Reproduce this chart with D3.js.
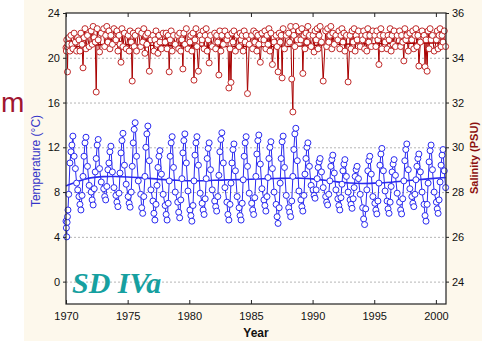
<!DOCTYPE html>
<html>
<head>
<meta charset="utf-8">
<script src="https://cdn.jsdelivr.net/npm/d3@7"></script>
<style>
body { margin: 0; background: #ffffff; }
</style>
</head>
<body>
<div id="chart"></div>
<script>
// sampling dates (decimal year), shared by both series
var sampleDate = [
  1970.00, 1970.03, 1970.06, 1970.09, 1970.12, 1970.16, 1970.22, 1970.32, 1970.40, 1970.48, 1970.56, 1970.66, 1970.76, 1970.86, 1970.95,
  1971.05, 1971.13, 1971.21, 1971.30, 1971.38, 1971.46, 1971.54, 1971.62, 1971.74, 1971.88,
  1972.04, 1972.12, 1972.20, 1972.29, 1972.37, 1972.45, 1972.53, 1972.61, 1972.72, 1972.86,
  1973.06, 1973.14, 1973.22, 1973.31, 1973.40, 1973.48, 1973.56, 1973.64, 1973.76, 1973.89,
  1974.05, 1974.13, 1974.21, 1974.30, 1974.38, 1974.46, 1974.54, 1974.62, 1974.74, 1974.88,
  1975.04, 1975.12, 1975.20, 1975.29, 1975.37, 1975.45, 1975.53, 1975.61, 1975.72, 1975.86,
  1976.06, 1976.14, 1976.22, 1976.31, 1976.40, 1976.48, 1976.56, 1976.64, 1976.76, 1976.89,
  1977.05, 1977.13, 1977.21, 1977.30, 1977.38, 1977.46, 1977.54, 1977.62, 1977.74, 1977.88,
  1978.04, 1978.12, 1978.20, 1978.29, 1978.37, 1978.45, 1978.53, 1978.61, 1978.72, 1978.86,
  1979.06, 1979.14, 1979.22, 1979.31, 1979.40, 1979.48, 1979.56, 1979.64, 1979.76, 1979.89,
  1980.05, 1980.13, 1980.21, 1980.30, 1980.38, 1980.46, 1980.54, 1980.62, 1980.74, 1980.88,
  1981.04, 1981.12, 1981.20, 1981.29, 1981.37, 1981.45, 1981.53, 1981.61, 1981.72, 1981.86,
  1982.06, 1982.14, 1982.22, 1982.31, 1982.40, 1982.48, 1982.56, 1982.64, 1982.76, 1982.89,
  1983.05, 1983.13, 1983.21, 1983.30, 1983.38, 1983.46, 1983.54, 1983.62, 1983.74, 1983.88,
  1984.04, 1984.12, 1984.20, 1984.29, 1984.37, 1984.45, 1984.53, 1984.61, 1984.72, 1984.86,
  1985.06, 1985.14, 1985.22, 1985.31, 1985.40, 1985.48, 1985.56, 1985.64, 1985.76, 1985.89,
  1986.05, 1986.13, 1986.21, 1986.30, 1986.38, 1986.46, 1986.54, 1986.62, 1986.74, 1986.88,
  1987.04, 1987.12, 1987.20, 1987.29, 1987.37, 1987.45, 1987.53, 1987.61, 1987.72, 1987.86,
  1988.06, 1988.14, 1988.22, 1988.31, 1988.40, 1988.48, 1988.56, 1988.64, 1988.76, 1988.89,
  1989.05, 1989.13, 1989.21, 1989.30, 1989.38, 1989.46, 1989.54, 1989.62, 1989.74, 1989.88,
  1990.04, 1990.12, 1990.20, 1990.29, 1990.37, 1990.45, 1990.53, 1990.61, 1990.72, 1990.86,
  1991.06, 1991.14, 1991.22, 1991.31, 1991.40, 1991.48, 1991.56, 1991.64, 1991.76, 1991.89,
  1992.05, 1992.13, 1992.21, 1992.30, 1992.38, 1992.46, 1992.54, 1992.62, 1992.74, 1992.88,
  1993.04, 1993.12, 1993.20, 1993.29, 1993.37, 1993.45, 1993.53, 1993.61, 1993.72, 1993.86,
  1994.06, 1994.14, 1994.22, 1994.31, 1994.40, 1994.48, 1994.56, 1994.64, 1994.76, 1994.89,
  1995.05, 1995.13, 1995.21, 1995.30, 1995.38, 1995.46, 1995.54, 1995.62, 1995.74, 1995.88,
  1996.04, 1996.12, 1996.20, 1996.29, 1996.37, 1996.45, 1996.53, 1996.61, 1996.72, 1996.86,
  1997.06, 1997.14, 1997.22, 1997.31, 1997.40, 1997.48, 1997.56, 1997.64, 1997.76, 1997.89,
  1998.05, 1998.13, 1998.21, 1998.30, 1998.38, 1998.46, 1998.54, 1998.62, 1998.74, 1998.88,
  1999.04, 1999.12, 1999.20, 1999.29, 1999.37, 1999.45, 1999.53, 1999.61, 1999.72, 1999.86,
  2000.04, 2000.11, 2000.18, 2000.26, 2000.34, 2000.42, 2000.50, 2000.58, 2000.68, 2000.79
];

// temperature (°C)
var tempValue = [
  5.4, 4.8, 4.0, 5.3, 5.8, 6.4, 7.8, 10.6, 11.6, 12.2, 13.0, 11.2, 10.1, 8.8, 8.2,
  7.6, 6.9, 6.4, 7.7, 9.4, 11.2, 12.4, 12.9, 10.3, 8.6,
  8.0, 7.3, 6.85, 8.3, 9.8, 11.0, 12.2, 12.7, 10.1, 8.9,
  8.3, 7.6, 7.3, 8.5, 10.0, 10.6, 11.6, 12.1, 9.8, 8.4,
  7.7, 7.1, 6.7, 7.9, 9.7, 11.5, 12.6, 13.25, 10.4, 8.7,
  7.6, 7.0, 6.65, 8.0, 10.3, 12.4, 13.6, 14.2, 11.2, 9.0,
  7.8, 6.6, 6.1, 7.6, 9.4, 12.0, 13.2, 13.9, 10.8, 8.2,
  7.2, 6.1, 5.5, 6.9, 8.6, 10.2, 11.2, 11.7, 9.6, 7.8,
  6.8, 6.0, 5.5, 7.0, 9.0, 11.2, 12.4, 12.95, 10.2, 8.0,
  7.1, 6.2, 5.7, 7.3, 9.2, 11.5, 12.6, 13.2, 10.6, 8.1,
  6.4, 5.9, 5.4, 6.8, 9.0, 11.3, 12.4, 12.95, 10.4, 7.9,
  7.0, 6.4, 6.0, 7.4, 9.2, 11.0, 11.9, 12.4, 10.0, 8.2,
  7.2, 6.7, 6.3, 7.6, 9.5, 11.6, 12.7, 13.3, 10.6, 8.4,
  7.1, 6.0, 5.5, 6.9, 8.8, 10.6, 11.8, 12.3, 9.9, 7.6,
  6.6, 5.9, 5.5, 7.0, 9.1, 11.2, 12.4, 12.95, 10.3, 7.9,
  7.0, 6.4, 6.0, 7.5, 9.4, 11.4, 12.6, 13.1, 10.5, 8.3,
  7.3, 6.8, 6.3, 7.6, 9.3, 11.0, 12.0, 12.5, 10.1, 8.0,
  6.9, 5.8, 5.2, 6.6, 8.8, 11.0, 12.5, 13.0, 10.2, 7.7,
  6.6, 6.2, 5.8, 7.2, 9.4, 11.8, 13.2, 13.7, 10.8, 8.1,
  7.3, 6.7, 6.3, 7.7, 9.6, 11.0, 12.0, 12.4, 10.3, 8.6,
  8.2, 7.7, 7.45, 8.2, 9.2, 10.2, 10.7, 11.0, 9.8, 8.4,
  7.6, 7.1, 6.85, 7.8, 9.0, 10.3, 10.9, 11.3, 9.7, 8.2,
  7.4, 6.8, 6.4, 7.5, 8.7, 9.9, 10.5, 10.9, 9.4, 8.0,
  7.3, 6.9, 6.55, 7.4, 8.4, 9.4, 10.0, 10.3, 9.2, 7.8,
  6.6, 5.6, 5.1, 6.5, 8.2, 9.9, 10.8, 11.2, 9.6, 7.6,
  7.0, 6.4, 6.05, 7.2, 8.8, 10.4, 11.4, 11.9, 9.9, 8.1,
  7.2, 6.5, 6.1, 7.1, 8.5, 9.8, 10.5, 10.9, 9.5, 7.9,
  7.1, 6.4, 6.05, 7.4, 9.0, 10.8, 11.8, 12.3, 10.0, 8.3,
  7.6, 7.0, 6.7, 7.8, 9.1, 10.3, 11.0, 11.4, 9.8, 8.0,
  6.9, 5.9, 5.4, 6.9, 8.8, 10.7, 11.7, 12.2, 10.0, 8.0,
  7.1, 6.5, 6.1, 7.3, 8.9, 10.4, 11.3, 11.8, 9.9, 8.4
];

// salinity (PSU)
var salValue = [
  34.45, 34.3, 34.8, 34.5, 33.37, 34.6, 34.9, 34.3, 35.0, 34.6, 34.4, 35.1, 34.7, 34.3, 34.9,
  34.8, 34.3, 35.1, 34.6, 33.55, 34.9, 35.3, 34.4, 35.0, 34.5,
  35.2, 34.6, 35.4, 34.9, 34.7, 32.47, 35.3, 34.8, 34.26, 35.1,
  35.3, 34.5, 35.0, 35.4, 34.7, 35.2, 34.4, 35.0, 34.6, 35.3,
  34.8, 35.2, 34.3, 35.0, 34.6, 33.8, 35.3, 34.5, 35.1, 34.4,
  35.0, 34.3, 35.2, 34.7, 32.96, 35.1, 34.5, 35.0, 34.3, 35.2,
  34.5, 35.1, 34.7, 35.3, 34.2, 35.0, 34.6, 35.1, 33.4, 34.8,
  35.0, 34.3, 34.8, 35.2, 34.6, 34.2, 35.0, 34.7, 34.4, 35.1,
  34.7, 35.1, 34.4, 35.0, 33.37, 34.8, 35.2, 34.3, 35.0, 34.6,
  35.0, 34.4, 35.1, 34.3, 34.8, 33.5, 35.1, 34.6, 35.3, 34.4,
  34.7, 35.0, 34.3, 35.1, 33.0, 34.8, 35.3, 34.5, 33.4, 35.0,
  34.8, 35.2, 34.4, 35.0, 35.3, 34.3, 34.8, 33.77, 35.0, 34.5,
  35.1, 34.4, 35.0, 34.7, 33.23, 35.2, 34.3, 35.0, 34.6, 35.2,
  34.8, 35.0, 32.65, 34.4, 32.9, 35.1, 34.7, 35.2, 34.3, 35.0,
  34.5, 35.1, 34.8, 35.0, 34.3, 35.2, 34.7, 35.0, 32.4, 34.6,
  35.0, 34.4, 35.2, 34.7, 35.1, 34.3, 35.0, 34.6, 33.8, 35.1,
  34.8, 35.2, 34.4, 35.0, 34.6, 35.3, 34.3, 35.1, 33.7, 34.7,
  35.0, 34.5, 33.37, 35.1, 34.7, 35.0, 33.1, 35.3, 34.4, 35.0,
  35.1, 34.7, 35.4, 33.05, 31.58, 35.0, 34.5, 35.4, 34.8, 35.2,
  34.8, 35.3, 33.3, 35.0, 34.4, 35.1, 34.7, 35.4, 35.0, 34.5,
  35.0, 34.26, 35.2, 34.8, 35.3, 34.4, 35.0, 35.4, 34.7, 32.96,
  35.2, 34.5, 35.3, 34.7, 35.0, 35.4, 34.4, 35.1, 34.6, 35.0,
  34.8, 35.2, 34.4, 35.0, 35.3, 34.7, 35.1, 34.3, 35.0, 32.92,
  35.0, 34.4, 35.2, 34.7, 35.3, 34.3, 35.0, 34.8, 35.2, 34.5,
  34.8, 35.2, 34.4, 35.0, 34.3, 35.3, 34.7, 35.0, 34.5, 35.2,
  35.0, 34.5, 35.2, 34.8, 33.7, 35.0, 35.3, 34.4, 35.0, 34.7,
  34.4, 35.0, 34.8, 35.3, 34.3, 35.0, 34.6, 35.2, 34.5, 35.0,
  35.2, 34.5, 35.0, 34.7, 33.86, 35.3, 34.8, 35.0, 34.3, 35.1,
  34.8, 35.2, 34.4, 35.0, 35.3, 34.5, 35.0, 33.63, 34.7, 35.2,
  35.0, 33.6, 34.8, 33.4, 35.2, 34.4, 35.3, 34.8, 35.0, 34.3,
  34.8, 35.2, 34.4, 35.0, 35.3, 34.5, 35.0, 34.7, 35.2, 34.5
];

// smoothed trends, one value per year
var trendYear = [1970, 1971, 1972, 1973, 1974, 1975, 1976, 1977, 1978, 1979, 1980, 1981, 1982, 1983, 1984, 1985,
  1986, 1987, 1988, 1989, 1990, 1991, 1992, 1993, 1994, 1995, 1996, 1997, 1998, 1999, 2000.8];
var tempTrend = [8.55, 9.0, 9.3, 9.4, 9.4, 9.35, 9.3, 9.2, 9.1, 9.05, 9.0, 9.0, 9.05, 9.1, 9.1, 9.15,
  9.2, 9.2, 9.25, 9.25, 9.2, 9.05, 8.9, 8.8, 8.75, 8.8, 8.85, 8.95, 9.05, 9.15, 9.3];
var salTrend = [34.45, 34.5, 34.55, 34.6, 34.6, 34.58, 34.56, 34.55, 34.55, 34.54, 34.52, 34.52, 34.5, 34.5, 34.5, 34.5,
  34.5, 34.5, 34.5, 34.52, 34.55, 34.58, 34.6, 34.62, 34.62, 34.63, 34.64, 34.65, 34.65, 34.66, 34.67];

var yearTicks = [1970, 1975, 1980, 1985, 1990, 1995, 2000];
var tempTicks = [0, 4, 8, 12, 16, 20, 24];
var salTicks = [24, 26, 28, 30, 32, 34, 36];

var w = 482;
var h = 341;
var plotLeft = 66, plotRight = 446, plotTop = 13, plotBottom = 304;
var sansFont = "'Liberation Sans', Arial, sans-serif";

var xScale = d3.scaleLinear().domain([1970, 2000.82]).range([plotLeft, plotRight]);
var tempScale = d3.scaleLinear().domain([-2, 24]).range([plotBottom, plotTop]);
var salScale = d3.scaleLinear().domain([23, 36]).range([plotBottom, plotTop]);

var samples = sampleDate.map(function(d, i) {
    return { date: d, temp: tempValue[i], sal: salValue[i] };
});
var trend = trendYear.map(function(d, i) {
    return { year: d, temp: tempTrend[i], sal: salTrend[i] };
});

var svg = d3.select("#chart")
    .append("svg")
    .attr("width", w)
    .attr("height", h)
    .attr("font-family", sansFont);

svg.append("rect")
    .attr("x", 0).attr("y", 0)
    .attr("width", w).attr("height", h)
    .attr("fill", "#ffffff");

svg.append("rect")
    .attr("x", 24).attr("y", 0)
    .attr("width", w - 24).attr("height", h)
    .attr("fill", "#fdf8ec");

svg.append("rect")
    .attr("x", plotLeft).attr("y", plotTop)
    .attr("width", plotRight - plotLeft).attr("height", plotBottom - plotTop)
    .attr("fill", "#ffffff");

// dotted horizontal grid
var grid = svg.append("g")
    .attr("transform", "translate(" + plotLeft + ",0)")
    .call(d3.axisLeft(tempScale)
        .tickValues([0, 4, 8, 12, 16, 20])
        .tickSize(-(plotRight - plotLeft))
        .tickFormat(""));
grid.select(".domain").remove();
grid.selectAll("line")
    .attr("stroke", "#b5b5b5")
    .attr("stroke-dasharray", "2,2");

// temperature
var tempLine = d3.line()
    .x(function(d) { return xScale(d.date); })
    .y(function(d) { return tempScale(d.temp); });

svg.append("path")
    .datum(samples)
    .attr("d", tempLine)
    .attr("fill", "none")
    .attr("stroke", "#2a2af0")
    .attr("stroke-width", 1);

svg.append("path")
    .datum(trend)
    .attr("d", d3.line()
        .curve(d3.curveBasis)
        .x(function(d) { return xScale(d.year); })
        .y(function(d) { return tempScale(d.temp); }))
    .attr("fill", "none")
    .attr("stroke", "#2a2af0")
    .attr("stroke-width", 1.6);

svg.append("g")
    .selectAll("circle")
    .data(samples)
    .enter().append("circle")
    .attr("cx", function(d) { return xScale(d.date); })
    .attr("cy", function(d) { return tempScale(d.temp); })
    .attr("r", 3)
    .attr("fill", "#ffffff")
    .attr("stroke", "#2a2af0")
    .attr("stroke-width", 1);

// salinity
var salLine = d3.line()
    .x(function(d) { return xScale(d.date); })
    .y(function(d) { return salScale(d.sal); });

svg.append("path")
    .datum(samples)
    .attr("d", salLine)
    .attr("fill", "none")
    .attr("stroke", "#a80000")
    .attr("stroke-width", 1);

svg.append("path")
    .datum(trend)
    .attr("d", d3.line()
        .curve(d3.curveBasis)
        .x(function(d) { return xScale(d.year); })
        .y(function(d) { return salScale(d.sal); }))
    .attr("fill", "none")
    .attr("stroke", "#a80000")
    .attr("stroke-width", 1.4);

svg.append("g")
    .selectAll("circle")
    .data(samples)
    .enter().append("circle")
    .attr("cx", function(d) { return xScale(d.date); })
    .attr("cy", function(d) { return salScale(d.sal); })
    .attr("r", 3)
    .attr("fill", "#ffffff")
    .attr("stroke", "#c02828")
    .attr("stroke-width", 1);

// axes
function styleAxis(g) {
    g.select(".domain").remove();
    g.attr("font-size", 11)
     .attr("font-family", sansFont);
    g.selectAll("line").attr("stroke", "#222");
    g.selectAll("text").attr("fill", "#111");
}

svg.append("g")
    .attr("transform", "translate(0," + plotBottom + ")")
    .call(d3.axisBottom(xScale).tickValues(yearTicks).tickFormat(d3.format("d")).tickSize(-4).tickPadding(8))
    .call(styleAxis);

svg.append("g")
    .attr("transform", "translate(0," + plotTop + ")")
    .call(d3.axisTop(xScale).tickValues(yearTicks).tickFormat("").tickSize(-4))
    .call(styleAxis);

svg.append("g")
    .attr("transform", "translate(" + plotLeft + ",0)")
    .call(d3.axisLeft(tempScale).tickValues(tempTicks).tickSize(3).tickPadding(3))
    .call(styleAxis);

svg.append("g")
    .attr("transform", "translate(" + plotRight + ",0)")
    .call(d3.axisRight(salScale).tickValues(salTicks).tickSize(3).tickPadding(3))
    .call(styleAxis);

svg.append("rect")
    .attr("x", plotLeft).attr("y", plotTop)
    .attr("width", plotRight - plotLeft).attr("height", plotBottom - plotTop)
    .attr("fill", "none")
    .attr("stroke", "#222")
    .attr("stroke-width", 1.2);

// labels
svg.append("text")
    .attr("transform", "translate(40,161) rotate(-90)")
    .attr("text-anchor", "middle")
    .attr("font-size", 12)
    .attr("fill", "#3434c8")
    .text("Temperature (°C)");

svg.append("text")
    .attr("transform", "translate(478,158) rotate(-90)")
    .attr("text-anchor", "middle")
    .attr("font-size", 11)
    .attr("font-weight", "bold")
    .attr("fill", "#8c1010")
    .text("Salinity (PSU)");

svg.append("text")
    .attr("x", 256).attr("y", 337)
    .attr("text-anchor", "middle")
    .attr("font-size", 12)
    .attr("font-weight", "bold")
    .attr("fill", "#111")
    .text("Year");

svg.append("text")
    .attr("x", 72).attr("y", 293)
    .style("font-family", "'Liberation Serif', 'Times New Roman', serif")
    .attr("font-style", "italic")
    .attr("font-weight", "bold")
    .attr("font-size", 30)
    .attr("fill", "#16a0a0")
    .text("SD IVa");

svg.append("text")
    .attr("x", 1).attr("y", 112)
    .attr("font-size", 28)
    .attr("fill", "#a01530")
    .text("m");
</script>
</body>
</html>
